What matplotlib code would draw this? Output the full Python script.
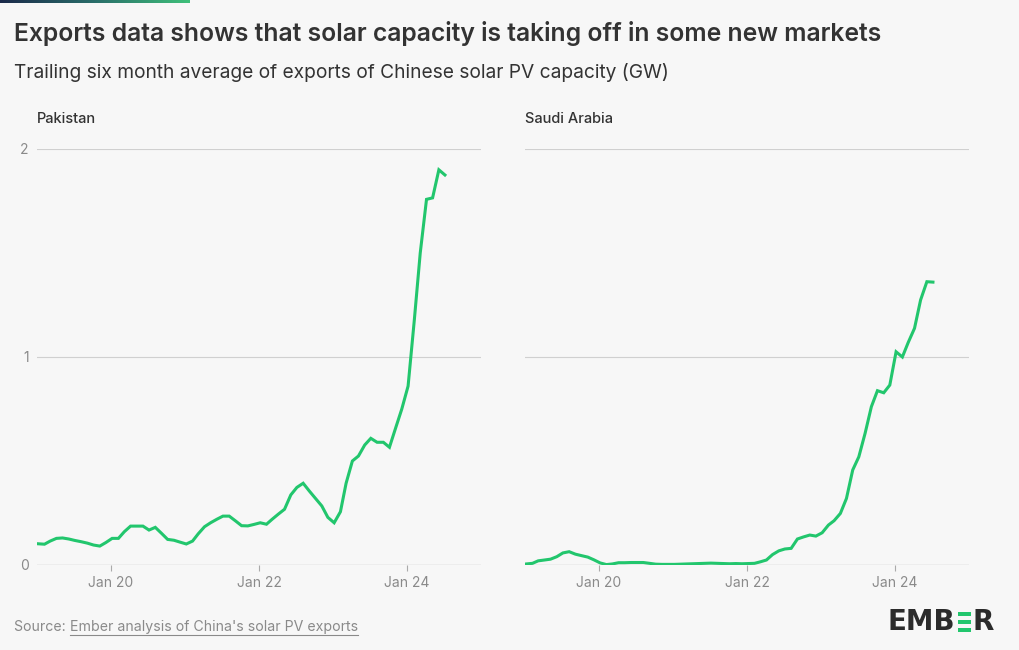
import pandas as pd
import numpy as np
import matplotlib
matplotlib.use("Agg")
import matplotlib.pyplot as plt
from matplotlib.lines import Line2D
from matplotlib.patches import Rectangle

# monthly data, Jan 2019 - Jul 2024 (GW, trailing six month average)
months = pd.date_range("2019-01-01", periods=67, freq="MS") + pd.Timedelta(days=6)

pakistan = [
    0.102, 0.100, 0.115, 0.128, 0.130, 0.125, 0.118, 0.112, 0.105, 0.096, 0.091, 0.108,
    0.128, 0.128, 0.160, 0.187, 0.187, 0.187, 0.168, 0.181, 0.152, 0.123, 0.119, 0.110,
    0.101, 0.115, 0.150, 0.184, 0.203, 0.220, 0.235, 0.235, 0.212, 0.189, 0.188, 0.195,
    0.203, 0.196, 0.220, 0.245, 0.268, 0.337, 0.373, 0.393, 0.355, 0.320, 0.284, 0.229,
    0.203, 0.256, 0.393, 0.500, 0.524, 0.577, 0.609, 0.590, 0.590, 0.566, 0.660, 0.750,
    0.860, 1.180, 1.500, 1.758, 1.765, 1.900, 1.875,
]
saudi = [
    0.005, 0.008, 0.020, 0.024, 0.028, 0.040, 0.058, 0.064, 0.052, 0.045, 0.038, 0.025,
    0.010, 0.002, 0.005, 0.011, 0.011, 0.012, 0.012, 0.012, 0.008, 0.004, 0.003, 0.003,
    0.003, 0.004, 0.005, 0.006, 0.007, 0.008, 0.009, 0.008, 0.007, 0.006, 0.007, 0.006,
    0.007, 0.008, 0.015, 0.024, 0.050, 0.068, 0.077, 0.080, 0.125, 0.135, 0.144, 0.139,
    0.155, 0.192, 0.213, 0.248, 0.320, 0.457, 0.520, 0.633, 0.761, 0.838, 0.828, 0.865,
    1.025, 1.000, 1.070, 1.138, 1.274, 1.362, 1.360,
]
panels = ["Pakistan", "Saudi Arabia"]
tick_dates = pd.to_datetime(["2020-01-01", "2022-01-01", "2024-01-01"])
tick_labels = ["Jan 20", "Jan 22", "Jan 24"]

BG = "#f7f7f7"
GREEN = "#22c66d"
DARK = "#333333"
GREY = "#8a8a8a"
FONT = "Inter"

plt.rcParams["font.family"] = [FONT, "DejaVu Sans"]

fig = plt.figure(figsize=(10.2, 6.5), dpi=100, facecolor=BG)
W, H = 1020, 650

# accent bar at the very top
grad = fig.add_axes([0, 1 - 3 / H, 190 / W, 3 / H])
grad.imshow(np.linspace(0, 1, 256).reshape(1, -1), aspect="auto",
            cmap=matplotlib.colors.LinearSegmentedColormap.from_list("acc", ["#1b2a4a", "#2a6e6a", "#3fc07a"]))
grad.axis("off")

fig.text(14 / W, 1 - 33 / H, "Exports data shows that solar capacity is taking off in some new markets",
         fontsize=17.8, fontweight="semibold", color=DARK, va="center", ha="left")
fig.text(14 / W, 1 - 73 / H, "Trailing six month average of exports of Chinese solar PV capacity (GW)",
         fontsize=13.8, color=DARK, va="center", ha="left")

lefts = [37, 525]
for i, (name, vals) in enumerate(zip(panels, [pakistan, saudi])):
    ax = fig.add_axes([lefts[i] / W, (H - 565) / H, 444 / W, 416 / H])
    ax.set_facecolor(BG)
    ax.plot(months, vals, color=GREEN, lw=2.2, solid_joinstyle="miter", zorder=3)
    ax.set_xlim(pd.Timestamp("2019-01-01"), pd.Timestamp("2025-01-01"))
    ax.set_ylim(0, 2)
    for s in ax.spines.values():
        s.set_visible(False)
    for yv in [1, 2]:
        ax.axhline(yv, color="#d0d0d0", lw=0.8, zorder=1)
    ax.axhline(0, color="#aaaaaa", lw=0.9, zorder=2)
    ax.set_xticks(tick_dates)
    ax.set_xticklabels(tick_labels)
    ax.tick_params(axis="x", length=4, width=0.8, color="#aaaaaa", labelcolor=GREY,
                   labelsize=10, pad=4)
    if i == 0:
        ax.set_yticks([0, 1, 2])
        ax.set_yticklabels(["0", "1", "2"])
        ax.tick_params(axis="y", length=0, labelcolor=GREY, labelsize=10, pad=6)
    else:
        ax.set_yticks([])
    fig.text(lefts[i] / W, 1 - 119 / H, name, fontsize=10.5, fontweight="medium",
             color=DARK, va="center", ha="left")

# source line with underlined link text
src1 = fig.text(14 / W, 1 - 627 / H, "Source: ", fontsize=10.2, color=GREY, va="center", ha="left")
fig.canvas.draw()
r = fig.canvas.get_renderer()
bb = src1.get_window_extent(r)
src2 = fig.text(bb.x1 / W, 1 - 627 / H, "Ember analysis of China's solar PV exports",
                fontsize=10.2, color=GREY, va="center", ha="left")
bb2 = src2.get_window_extent(r)
fig.add_artist(Line2D([bb2.x0 / W, bb2.x1 / W], [(bb2.y0 - 0.5) / H] * 2, color=GREY, lw=0.8))

# EMBER logo
logo_kw = dict(fontsize=20, fontweight="bold", color="#2b2b2b", va="center", family="Liberation Sans Narrow")
t1 = fig.text(888 / W, 1 - 622 / H, "EMB", ha="left", **logo_kw)
fig.canvas.draw()
b1 = t1.get_window_extent(r)
x0 = b1.x1 + 2
bar_w = 13
for k in range(3):
    fig.add_artist(Rectangle((x0 / W, (H - 632 + k * 8.2) / H), bar_w / W, 3.6 / H,
                             transform=fig.transFigure, color=GREEN, lw=0))
fig.text((x0 + bar_w + 2) / W, 1 - 622 / H, "R", ha="left", **logo_kw)

fig.savefig("out.png", dpi=100, facecolor=BG)
